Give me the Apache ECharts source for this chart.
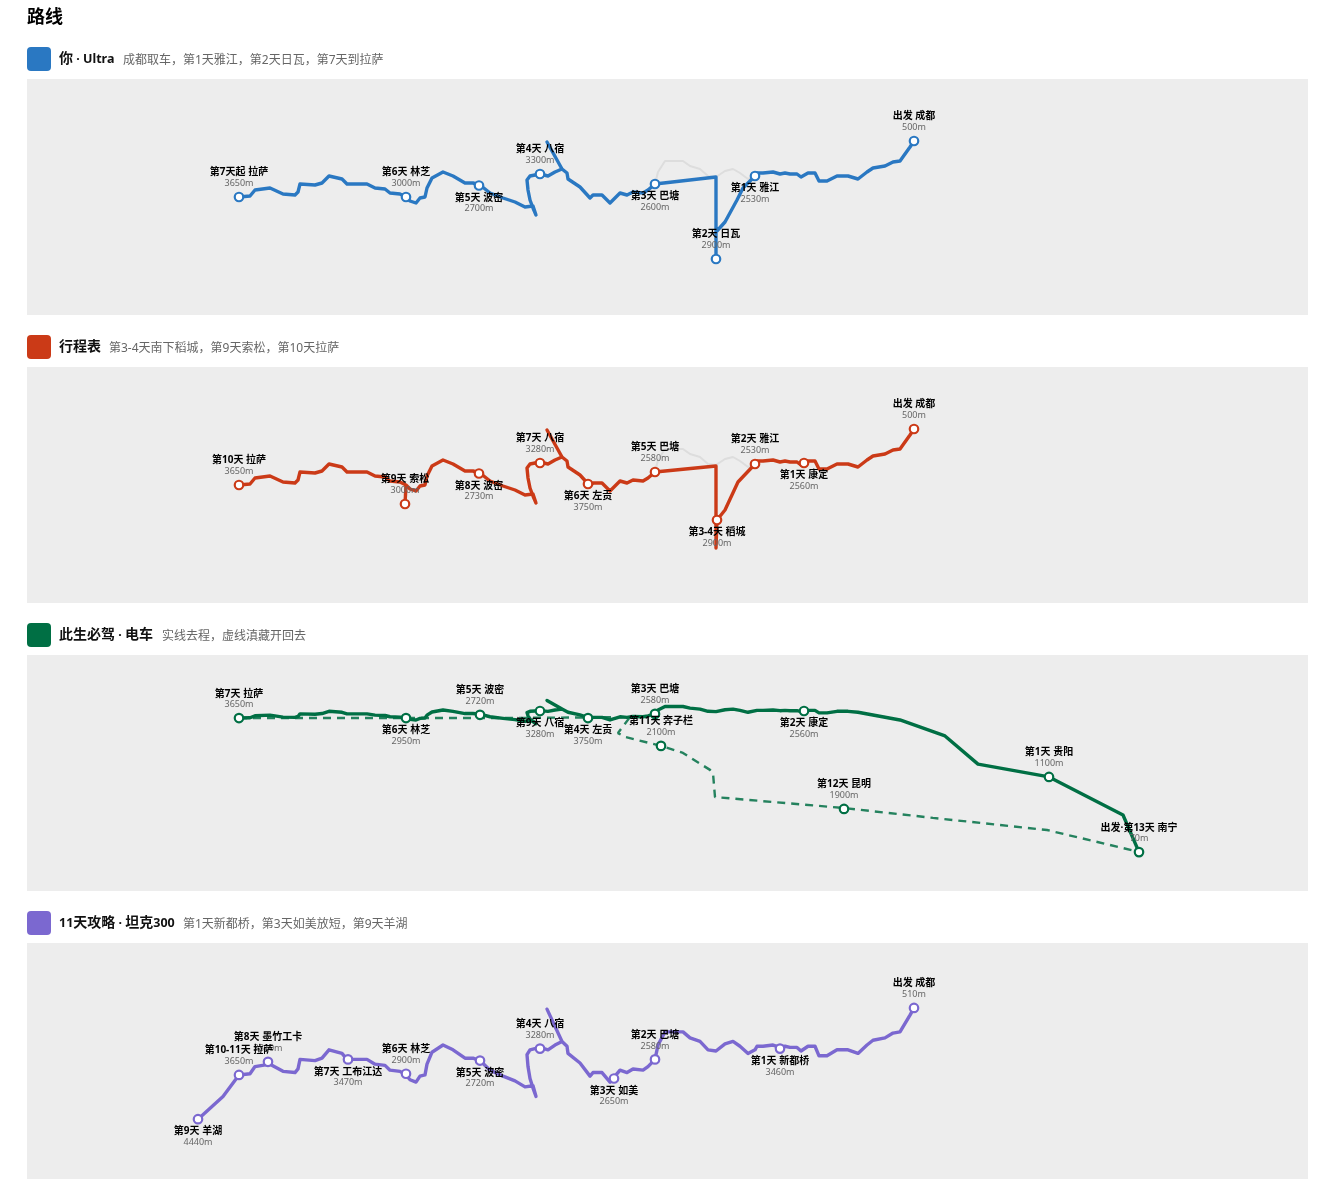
<!DOCTYPE html>
<html><head><meta charset="utf-8">
<style>html,body{margin:0;padding:0;background:#fff}#c{width:1337px;height:1194px}</style>
<script src="https://cdn.jsdelivr.net/npm/echarts@6/dist/echarts.min.js"></script>
</head><body><div id="c"></div>
<script>
// Shared road pieces: [east-west, north-south]
const eastRoad = [[914,141],[910,147],[900,161],[893,162],[885,166],[873,168],[867,172],[858,179],[848,176],[837,176],[827,181],[819,181],[815,173],[808,173],[801,177],[797,174],[790,174],[785,173],[780,174],[773,172],[763,173],[757,173],[755,176]];
const northRoad = [[755,176],[748,179],[740,173],[733,169],[725,171],[716,177],[708,176],[700,169],[690,166],[683,161],[665,161],[658,172],[655,184]];
const westRoad = [[655,184],[648,190],[643,193],[633,192],[627,195],[620,193],[610,203],[602,195],[593,195],[590,198],[580,187],[568,179],[567,173],[562,169],[547,142],[562,169],[555,172],[548,176],[540,174],[530,176],[527,180],[528,190],[530,200],[533,208],[536,215],[533,206],[525,207],[515,202],[503,198],[490,193],[480,185],[473,183],[465,183],[453,176],[443,172],[432,178],[427,188],[425,197],[420,198],[416,203],[410,201],[406,197],[400,194],[390,193],[385,189],[375,188],[367,184],[347,184],[342,179],[329,176],[322,183],[315,185],[300,184],[298,192],[295,195],[283,194],[270,188],[255,190],[250,196],[239,197]];

const ultraSouth = [[755,176],[743,188],[737,200],[725,222],[716,232],[716,259],[716,177],[655,184]];
const itinerarySouth = [[755,176],[738,194],[725,222],[717,232],[716,260],[716,178],[655,184]];
const suosongSpur = [[406,197],[405,216]];
const guizhouRoad = [[1139,616],[1123,500],[1049,381],[978,341],[945,253],[900,203],[858,179]];
const returnDashed = [[239,197],[500,197],[630,194],[618,244],[625,256],[661,284],[683,306],[710,359],[713,369],[715,444],[843,478],[933,509],[1047,547],[1140,616]];
const yamdrokRoad = [[239,197],[223,215],[198,234]];

// Stops: name, elevation, east-west, north-south
const ultraNames = ['出发 成都','第1天 雅江','第2天 日瓦','第3天 巴塘','第4天 八宿','第5天 波密','第6天 林芝','第7天起 拉萨'];
const ultraElev = ['500m','2530m','2900m','2600m','3300m','2700m','3000m','3650m'];
const ultraX = [914,755,716,655,540,479,406,239];
const ultraY = [141,176,259,184,174,185.5,197,197];
const ultraBelow = [0,1,0,1,0,1,0,0];

const itinNames = ['出发 成都','第1天 康定','第2天 雅江','第3-4天 稻城','第5天 巴塘','第6天 左贡','第7天 八宿','第8天 波密','第9天 索松','第10天 拉萨'];
const itinElev = ['500m','2560m','2530m','2900m','2580m','3750m','3280m','2730m','3000m','3650m'];
const itinX = [914,804,755,717,655,588,540,479,405,239];
const itinY = [141,175,176,232,184,196,175,185.5,216,197];
const itinBelow = [0,1,0,1,0,1,0,1,0,0];

const evNames = ['第7天 拉萨','第6天 林芝','第5天 波密','第9天 八宿','第4天 左贡','第3天 巴塘','第11天 奔子栏','第2天 康定','第12天 昆明','第1天 贵阳','出发·第13天 南宁'];
const evElev = ['3650m','2950m','2720m','3280m','3750m','2580m','2100m','2560m','1900m','1100m','70m'];
const evX = [239,406,480,540,588,655,661,804,844,1049,1139];
const evY = [197,197,187,175,197,184,284,175,481,381,616];
const evBelow = [0,1,0,1,1,0,0,1,0,0,0];

const tankNames = ['出发 成都','第1天 新都桥','第2天 巴塘','第3天 如美','第4天 八宿','第5天 波密','第6天 林芝','第7天 工布江达','第8天 墨竹工卡','第10-11天 拉萨','第9天 羊湖'];
const tankElev = ['510m','3460m','2580m','2650m','3280m','2720m','2900m','3470m','3800m','3650m','4440m'];
const tankX = [914,780,655,614,540,480,406,348,268,239,198];
const tankY = [141,175,184,200,175,185,196,184,186,197,234];
const tankBelow = [0,1,0,1,0,1,0,1,0,0,1];

const heads = ['你 · Ultra','行程表','此生必驾 · 电车','11天攻略 · 坦克300'];
const notes = ['成都取车，第1天雅江，第2天日瓦，第7天到拉萨','第3-4天南下稻城，第9天索松，第10天拉萨','实线去程，虚线滇藏开回去','第1天新都桥，第3天如美放短，第9天羊湖'];
const colors = ['#2a78c2','#cb3a17','#006f44','#7b68d0'];

const tops = [79,367,655,943];
const panelH = 236, panelL = 27, panelW = 1281;
const yRanges = [[79,315],[79,315],[0,737.5],[86.7,284]];
const FONT = '"Noto Sans","Noto Sans CJK SC",sans-serif';

const routes = [
  eastRoad.concat(ultraSouth, westRoad),
  eastRoad.concat(itinerarySouth, westRoad),
  guizhouRoad.concat(eastRoad.slice(7), northRoad, westRoad),
  eastRoad.concat(northRoad, westRoad, yamdrokRoad)
];
const stops = [
  [ultraNames,ultraElev,ultraX,ultraY,ultraBelow],
  [itinNames,itinElev,itinX,itinY,itinBelow],
  [evNames,evElev,evX,evY,evBelow],
  [tankNames,tankElev,tankX,tankY,tankBelow]
];

function headRich(s){
  return s.replace(/[ -~·]+|[^ -~·]+/g,m=>/^[ -~·]/.test(m)?'{l|'+m+'}':'{c|'+m+'}');
}

const grid=[],xAxis=[],yAxis=[],series=[],title=[],graphic=[];
title.push({text:'路线',left:27,top:9,textStyle:{fontSize:18,fontWeight:'bold',color:'#000',fontFamily:FONT},padding:0});
tops.forEach((t,i)=>{
  grid.push({left:panelL,top:t,width:panelW,height:panelH,show:true,backgroundColor:'#ededed',borderWidth:0});
  xAxis.push({type:'value',gridIndex:i,min:panelL,max:panelL+panelW,show:false});
  yAxis.push({type:'value',gridIndex:i,min:yRanges[i][0],max:yRanges[i][1],inverse:true,show:false});
  graphic.push({type:'rect',left:panelL,top:t-32,shape:{width:24,height:24,r:4},style:{fill:colors[i]}});
  title.push({
    text:headRich(heads[i]),left:59,top:t-27.5,padding:0,
    textStyle:{fontWeight:'normal',rich:{
      c:{fontSize:14,fontWeight:'bold',color:'#111',fontFamily:FONT,lineHeight:16,verticalAlign:'middle'},
      l:{fontSize:12.5,fontWeight:'bold',color:'#111',fontFamily:FONT,lineHeight:16,verticalAlign:'middle'}}}
  });
  graphic.push({type:'text',left:[123,109,162,183][i],top:t-26,
    style:{text:notes[i],fontSize:12,fill:'#666',fontFamily:FONT,lineHeight:16}});
  if(i<2) series.push({type:'line',xAxisIndex:i,yAxisIndex:i,data:northRoad,showSymbol:false,silent:true,z:1,
    lineStyle:{color:'#dddddd',width:2,join:'round'}});
  if(i===2) series.push({type:'line',xAxisIndex:i,yAxisIndex:i,data:returnDashed,showSymbol:false,silent:true,z:2,
    lineStyle:{color:colors[i],width:2.4,type:[8,6],opacity:.85}});
  series.push({type:'line',xAxisIndex:i,yAxisIndex:i,data:routes[i],showSymbol:false,silent:true,z:3,
    lineStyle:{color:colors[i],width:3.4,join:'round',cap:'round'}});
  if(i===1) series.push({type:'line',xAxisIndex:i,yAxisIndex:i,data:suosongSpur,showSymbol:false,silent:true,z:3,
    lineStyle:{color:colors[i],width:3.4}});
  const [nm,el,xs,ys,below]=stops[i];
  series.push({type:'scatter',xAxisIndex:i,yAxisIndex:i,symbol:'circle',symbolSize:8.5,z:4,silent:true,
    itemStyle:{color:'#fff',borderColor:colors[i],borderWidth:2.2,opacity:1},
    data:nm.map((n,k)=>({value:[xs[k],ys[k]],label:{show:true,position:below[k]?'bottom':'top',distance:below[k]?1.5:2.5,
      formatter:'{n|'+n+'}\n{e|'+el[k]+'}',
      rich:{n:{fontSize:10,fontWeight:'bold',color:'#000',lineHeight:11,fontFamily:FONT,align:'center'},
            e:{fontSize:9,color:'#666',lineHeight:11,fontFamily:FONT,align:'center'}}}}))});
});
const chart=echarts.init(document.getElementById('c'),null,{renderer:'canvas'});
chart.setOption({animation:false,backgroundColor:'#fff',title,grid,xAxis,yAxis,series,graphic,tooltip:{show:false}});
</script></body></html>
